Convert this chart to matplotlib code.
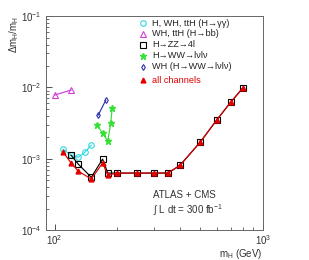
import matplotlib
matplotlib.use("Agg")
import matplotlib.pyplot as plt
from matplotlib.ticker import NullFormatter, LogLocator

# H, WH, ttH (H -> gamma gamma)
m_gg = [110, 120, 130, 140, 150]
d_gg = [1.36e-3, 1.12e-3, 1.05e-3, 1.24e-3, 1.55e-3]
# WH, ttH (H -> bb)
m_bb = [100, 120]
d_bb = [7.8e-3, 9.2e-3]
# H -> ZZ -> 4l
m_zz = [120, 130, 150, 170, 180, 200, 250, 300, 350, 400, 500, 600, 700, 800]
d_zz = [1.12e-3, 8.4e-4, 5.5e-4, 9.9e-4, 6.3e-4, 6.3e-4, 6.3e-4, 6.3e-4,
        6.3e-4, 8.1e-4, 1.71e-3, 3.5e-3, 6.2e-3, 9.8e-3]
# H -> WW -> lvlv
m_ww = [160, 170, 180, 186, 189]
d_ww = [2.96e-3, 2.28e-3, 1.77e-3, 3.15e-3, 5.1e-3]
# WH (H -> WW -> lvlv)
m_wh = [162, 176]
d_wh = [4.1e-3, 6.6e-3]
# all channels
m_all = [110, 120, 130, 150, 170, 180, 200, 250, 300, 350, 400, 500, 600, 700, 800]
d_all = [1.24e-3, 8.7e-4, 6.7e-4, 5.2e-4, 8.7e-4, 5.9e-4, 6.3e-4, 6.3e-4,
         6.3e-4, 6.3e-4, 8.1e-4, 1.71e-3, 3.5e-3, 6.2e-3, 9.8e-3]

labels = ["H, WH, ttH (H\u2192\u03b3\u03b3)",
          "WH, ttH (H\u2192bb)",
          "H\u2192ZZ\u21924l",
          "H\u2192WW\u2192l\u03bdl\u03bd",
          "WH (H\u2192WW\u2192l\u03bdl\u03bd)",
          "all channels"]

plt.rcParams["font.family"] = ["Liberation Sans", "DejaVu Sans"]
plt.rcParams["mathtext.fontset"] = "custom"
plt.rcParams["mathtext.rm"] = "Liberation Sans"
plt.rcParams["mathtext.it"] = "Liberation Sans"

fig = plt.figure(figsize=(3.09, 2.60), dpi=100)
ax = fig.add_axes([0.149, 0.115, 0.702, 0.823])

cyan, magenta, green, blue, red = "#33d6e0", "#d040d8", "#33e033", "#3030b0", "#e00000"
ms = 4

styles = [
    dict(marker="o", color=cyan, mfc="none", ms=ms, mew=0.8),
    dict(marker="^", color=magenta, mfc="none", ms=ms, mew=0.8),
    dict(marker="s", color="black", mfc="none", ms=ms + 0.5, mew=0.8),
    dict(marker="*", color=green, ms=ms + 1),
    dict(marker="d", color=blue, mfc="none", ms=3, mew=0.8),
    dict(marker="^", color=red, ms=ms - 0.5),
]
series = [(m_gg, d_gg), (m_bb, d_bb), (m_zz, d_zz), (m_ww, d_ww), (m_wh, d_wh),
          (m_all, d_all)]
for (m, d), st in zip(series, styles):
    ax.plot(m, d, ls="-", lw=0.85, **st)

ax.set_xscale("log")
ax.set_yscale("log")
ax.set_xlim(91, 1000)
ax.set_ylim(1e-4, 1e-1)

ax.tick_params(which="both", direction="in", labelsize=7, colors="#333333",
               top=False, right=False)
ax.tick_params(which="major", length=4, width=0.6)
ax.tick_params(which="minor", length=2, width=0.5)
ax.tick_params(axis="x", pad=2)
ax.xaxis.set_minor_formatter(NullFormatter())
ax.yaxis.set_minor_locator(LogLocator(subs=range(2, 10)))
ax.yaxis.set_minor_formatter(NullFormatter())
for s in ax.spines.values():
    s.set_color("#666666")
    s.set_linewidth(0.7)

ax.set_ylabel("$\\Delta$m$_{\\rm H}$/m$_{\\rm H}$", loc="top", fontsize=7,
              color="#333333", labelpad=0)
ax.set_xlabel("m$_{\\rm H}$ (GeV)", fontsize=7, color="#333333", ha="right")
ax.xaxis.set_label_coords(1.0, -0.08)

# legend keys, drawn by hand to match the tight row spacing
rows = [0.966, 0.917, 0.866, 0.815, 0.764, 0.700]
for y, st, lab in zip(rows, styles, labels):
    ax.plot([0.447], [y], transform=ax.transAxes, clip_on=False, ls="none", **st)
    ax.text(0.49, y, lab, transform=ax.transAxes, fontsize=6.6, va="center",
            color=red if lab == "all channels" else "#222222")

ax.text(0.495, 0.15, "ATLAS + CMS", transform=ax.transAxes, fontsize=7, color="#333333")
ax.text(0.495, 0.075, "$\\int$ L dt = 300 fb$^{-1}$", transform=ax.transAxes,
        fontsize=7, color="#333333")

fig.savefig("out.png", dpi=100)
